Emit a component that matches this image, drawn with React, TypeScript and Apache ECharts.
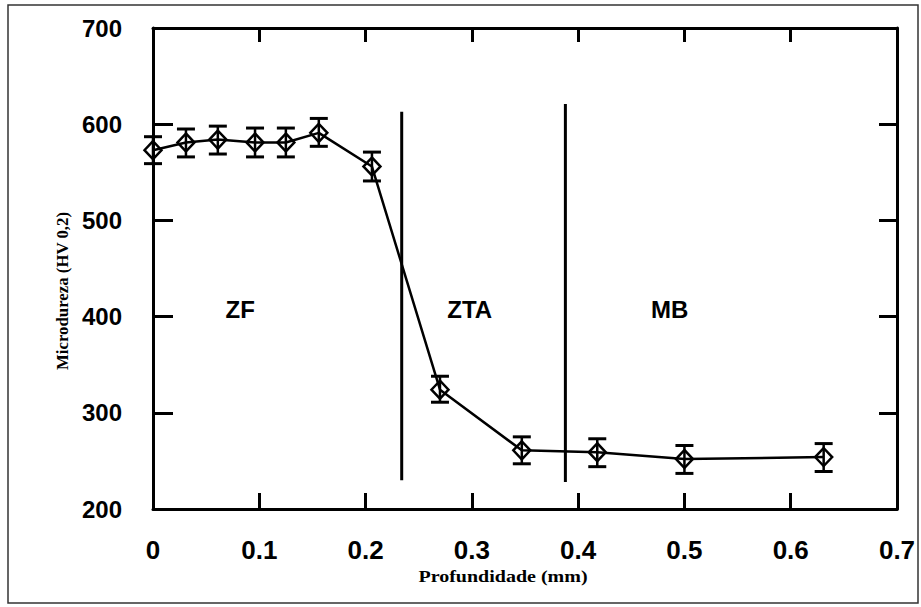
import React, { useEffect, useRef } from "react";
import * as echarts from "echarts";

// Depth (mm) of each indentation and the measured microhardness (HV 0,2)
const depth = [0, 0.031, 0.061, 0.096, 0.125, 0.156, 0.206, 0.27, 0.347, 0.418, 0.5, 0.631];
const hardness = [573, 581, 584, 581, 581, 591, 556, 324, 261, 259, 252, 254];
const errorLow = [559, 566, 569, 566, 566, 577, 541, 311, 247, 244, 237, 239];
const errorHigh = [587, 595, 598, 596, 596, 606, 571, 338, 275, 273, 266, 268];

// Zone boundaries (vertical lines)
const boundaryX = [0.234, 0.388];
const boundaryLow = [230, 228];
const boundaryHigh = [613, 621];

// Zone labels
const zoneNames = ["ZF", "ZTA", "MB"];
const zoneX = [0.082, 0.298, 0.486];
const zoneY = [407, 407, 407];

const xTicks = { min: 0, max: 0.7, interval: 0.1 };
const yTicks = { min: 200, max: 700, interval: 100 };

const xTitle = "Profundidade (mm)";
const yTitle = "Microdureza (HV 0,2)";

export default function App() {
  const ref = useRef<HTMLDivElement>(null);

  useEffect(() => {
    if (!ref.current) return;
    const chart = echarts.init(ref.current, null, { renderer: "svg" });

    const labelFont = {
      fontFamily: "Liberation Sans",
      fontWeight: "bold" as const,
      color: "#000",
    };

    const axisLine = { show: true, onZero: false, lineStyle: { color: "#000", width: 3 } };

    const series: any[] = [
      {
        type: "custom",
        name: "err",
        xAxisIndex: 0,
        yAxisIndex: 0,
        clip: false,
        z: 3,
        data: depth.map((d, i) => [d, errorLow[i], errorHigh[i]]),
        renderItem: (params: any, api: any) => {
          const x = api.value(0);
          const pLo = api.coord([x, api.value(1)]);
          const pHi = api.coord([x, api.value(2)]);
          const hw = 9;
          const st = { stroke: "#000", lineWidth: 2.5 };
          return {
            type: "group",
            children: [
              { type: "line", shape: { x1: pLo[0], y1: pLo[1], x2: pHi[0], y2: pHi[1] }, style: st },
              { type: "line", shape: { x1: pLo[0] - hw, y1: pLo[1], x2: pLo[0] + hw, y2: pLo[1] }, style: { stroke: "#000", lineWidth: 3 } },
              { type: "line", shape: { x1: pHi[0] - hw, y1: pHi[1], x2: pHi[0] + hw, y2: pHi[1] }, style: { stroke: "#000", lineWidth: 3 } },
            ],
          };
        },
      },
      {
        type: "line",
        name: "HV",
        xAxisIndex: 0,
        yAxisIndex: 0,
        clip: false,
        z: 4,
        data: depth.map((d, i) => [d, hardness[i]]),
        symbol: "diamond",
        symbolSize: [17, 18],
        showAllSymbol: true,
        lineStyle: { color: "#000", width: 2.5 },
        itemStyle: { color: "rgba(255,255,255,0)", borderColor: "#000", borderWidth: 2.5 },
      },
      ...boundaryX.map((bx, i) => ({
        type: "line",
        name: "boundary" + i,
        xAxisIndex: 0,
        yAxisIndex: 0,
        z: 2,
        symbol: "none",
        data: [
          [bx, boundaryLow[i]],
          [bx, boundaryHigh[i]],
        ],
        lineStyle: { color: "#000", width: 3 },
      })),
      {
        type: "scatter",
        name: "zones",
        xAxisIndex: 0,
        yAxisIndex: 0,
        symbolSize: 1,
        itemStyle: { color: "rgba(0,0,0,0)", opacity: 1 },
        data: zoneNames.map((n, i) => ({ value: [zoneX[i], zoneY[i]], name: n })),
        label: {
          show: true,
          position: "inside",
          formatter: (p: any) => p.name,
          fontFamily: "Liberation Sans",
          fontWeight: "bold",
          fontSize: 24,
          color: "#000",
          opacity: 1,
        },
      },
    ];

    chart.setOption({
      animation: false,
      backgroundColor: "#fff",
      grid: { left: 153, right: 24, top: 28, bottom: 98, containLabel: false },
      xAxis: [
        {
          type: "value",
          position: "bottom",
          ...xTicks,
          axisLine,
          axisTick: { show: true, inside: true, length: 16, lineStyle: { color: "#000", width: 3 } },
          axisLabel: { ...labelFont, fontSize: 26, margin: 28, formatter: (v: number) => String(+v.toFixed(1)) },
          splitLine: { show: false },
        },
        {
          type: "value",
          position: "top",
          ...xTicks,
          axisLine,
          axisTick: { show: true, inside: true, length: 14, lineStyle: { color: "#000", width: 3 } },
          axisLabel: { show: false },
          splitLine: { show: false },
        },
      ],
      yAxis: [
        {
          type: "value",
          position: "left",
          ...yTicks,
          axisLine,
          axisTick: { show: true, inside: true, length: 20, lineStyle: { color: "#000", width: 3 } },
          axisLabel: { ...labelFont, fontSize: 24, margin: 31 },
          splitLine: { show: false },
        },
        {
          type: "value",
          position: "right",
          ...yTicks,
          axisLine,
          axisTick: { show: true, inside: true, length: 18, lineStyle: { color: "#000", width: 3 } },
          axisLabel: { show: false },
          splitLine: { show: false },
        },
      ],
      series,
      graphic: [
        {
          type: "rect",
          shape: { x: 8, y: 5, width: 910, height: 598 },
          style: { fill: "none", stroke: "#333", lineWidth: 1.5 },
          silent: true,
        },
        {
          type: "text",
          x: 63,
          y: 291,
          rotation: Math.PI / 2,
          scaleX: 1.05,
          style: {
            text: yTitle,
            fontFamily: "Liberation Serif",
            fontWeight: "bold",
            fontSize: 16,
            fill: "#000",
            align: "center",
            verticalAlign: "middle",
          },
          silent: true,
        },
        {
          type: "text",
          x: 503,
          y: 577,
          scaleX: 1.25,
          style: {
            text: xTitle,
            fontFamily: "Liberation Serif",
            fontWeight: "bold",
            fontSize: 16,
            fill: "#000",
            align: "center",
            verticalAlign: "middle",
          },
          silent: true,
        },
      ],
    });

    return () => chart.dispose();
  }, []);

  return (
    <div
      ref={ref}
      style={{ position: "fixed", left: 0, top: 0, width: 921, height: 607, background: "#fff" }}
    />
  );
}
